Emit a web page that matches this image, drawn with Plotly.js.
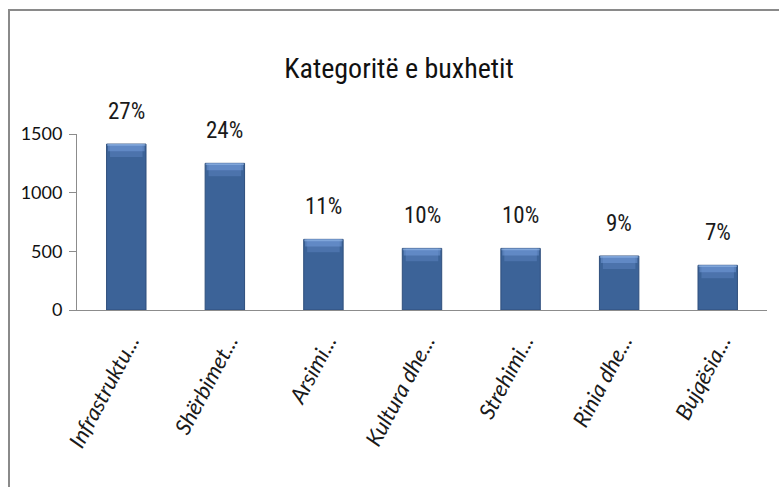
<!DOCTYPE html>
<html>
<head>
<meta charset="utf-8">
<script src="https://cdn.plot.ly/plotly-3.0.1.min.js"></script>
<style>
html,body{margin:0;padding:0;background:#fff;}
#chart{width:779px;height:487px;}
#chart .xtick text{font-style:italic !important;}
</style>
</head>
<body>
<div id="chart"></div>
<script>
var categories = ["Infrastruktu...", "Shërbimet...", "Arsimi...", "Kultura dhe...", "Strehimi...", "Rinia dhe...", "Bujqësia..."];
var values = [1414, 1250, 602, 525, 525, 460, 381];
var percentLabels = ["27%", "24%", "11%", "10%", "10%", "9%", "7%"];
var yTickVals = [0, 500, 1000, 1500];
var yTickText = ["0", "500", "1000", "1500"];

var narrow = "Roboto Condensed, Roboto, sans-serif";

function band(h, w, col) {
  return {
    type: "bar",
    x: categories,
    y: values.map(function(){ return h; }),
    base: values.map(function(v){ return v - h; }),
    width: w,
    marker: {color: col, line: {width: 0}},
    hoverinfo: "skip"
  };
}

var traces = [
  {
    type: "bar",
    x: categories,
    y: values,
    width: 0.4,
    marker: {color: "#3C6398", line: {color: "#2E4E7C", width: 1}},
    hoverinfo: "x+y"
  },
  band(110, 0.33, "rgba(105,145,210,0.35)"),
  band(60, 0.37, "rgba(125,165,228,0.45)"),
  band(15, 0.39, "rgba(160,195,240,0.5)")
];

var annotations = categories.map(function(c, i){
  return {
    x: c, y: values[i], xref: "x", yref: "y",
    text: percentLabels[i], showarrow: false,
    yanchor: "bottom", yshift: 17,
    font: {family: narrow, size: 23, color: "#1a1a1a"}
  };
});

var layout = {
  width: 779, height: 487,
  margin: {l: 77, r: 12, t: 134, b: 177},
  paper_bgcolor: "#ffffff",
  plot_bgcolor: "#ffffff",
  showlegend: false,
  barmode: "overlay",
  title: {
    text: "Kategoritë e buxhetit",
    font: {family: narrow, size: 28, color: "#111111"},
    x: 399/779, xref: "container", xanchor: "center",
    y: 1 - 68/487, yref: "container", yanchor: "middle"
  },
  xaxis: {
    showline: true, linecolor: "#8c8c8c", linewidth: 1,
    ticks: "", showgrid: false, zeroline: false,
    tickangle: -62,
    tickfont: {family: "Lato, sans-serif", size: 22, color: "#1a1a1a", style: "italic"},
    ticklabelstandoff: 9,
    ticklabelshift: 4
  },
  yaxis: {
    range: [0, 1500],
    showline: true, linecolor: "#8c8c8c", linewidth: 1,
    ticks: "outside", ticklen: 7, tickcolor: "#8c8c8c",
    tickvals: yTickVals, ticktext: yTickText,
    showgrid: false, zeroline: false,
    tickfont: {family: "Lato, sans-serif", size: 18, color: "#111111"},
    ticklabelstandoff: 3
  },
  annotations: annotations,
  shapes: [
    {
      type: "rect", xref: "paper", yref: "paper",
      x0: (9 - 77)/690, x1: 1.1, y0: -1.2, y1: (310 - 10)/176,
      line: {color: "#8a8a8a", width: 2}, fillcolor: "rgba(0,0,0,0)", layer: "below"
    }
  ]
};

Plotly.newPlot("chart", traces, layout, {displayModeBar: false, staticPlot: true});
</script>
</body>
</html>
